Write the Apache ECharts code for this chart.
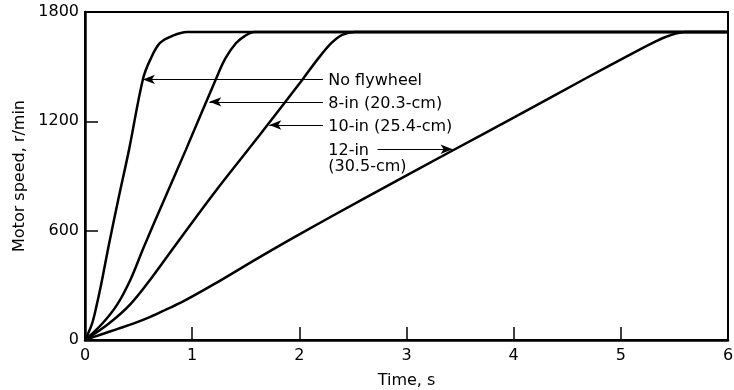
<!DOCTYPE html>
<html>
<head>
<meta charset="utf-8">
<script src="https://cdn.jsdelivr.net/npm/echarts@6/dist/echarts.min.js"></script>
<style>
  html, body { margin: 0; padding: 0; background: #fff; }
  #chart { width: 734px; height: 390px; }
</style>
</head>
<body>
<div id="chart"></div>
<script>
// Motor acceleration curves: [time (s), speed (r/min)]
const noFlywheel = [[0,0],[0.065,89],[0.11,194],[0.16,332],[0.22,515],[0.31,770],[0.41,1042],[0.54,1430],[0.61,1540],[0.70,1630],[0.82,1670],[0.95,1690],[6,1690]];
const flywheel8in = [[0,0],[0.16,89],[0.30,194],[0.425,332],[0.55,512],[0.75,785],[0.94,1042],[1.22,1430],[1.31,1545],[1.41,1630],[1.49,1668],[1.58,1690],[6,1690]];
const flywheel10in = [[0,0],[0.22,89],[0.42,194],[0.61,332],[0.835,513],[1.20,803],[1.63,1125],[2.03,1430],[2.17,1540],[2.30,1630],[2.40,1675],[2.52,1690],[6,1690]];
const flywheel12in = [[0,0],[0.15,30],[0.30,60],[0.45,90],[0.61,127],[0.76,168],[0.92,213],[1.20,305],[1.63,455],[2.0,580],[2.59,772],[3.43,1040],[4.0,1220],[4.67,1435],[5.1,1570],[5.33,1640],[5.45,1670],[5.6,1690],[6,1690]];

// Callouts: [label start time, speed, text]
const labels = [
  [2.27, 1420, 'No flywheel'],
  [2.27, 1297, '8-in (20.3-cm)'],
  [2.27, 1170, '10-in (25.4-cm)'],
  [2.27, 1037, '12-in'],
  [2.27, 948, '(30.5-cm)']
];
// Leader arrows: [from time, to time, speed]
const arrows = [
  [2.22, 0.54, 1430],
  [2.22, 1.16, 1307],
  [2.22, 1.72, 1180],
  [2.73, 3.43, 1047]
];

const xTicks = { min: 0, max: 6, interval: 1 };
const yTicks = { min: 0, max: 1800, interval: 600 };

const FONT = 'DejaVu Sans';
const INK = '#000';

function curve(name, data, arrow) {
  return {
    name: name,
    type: 'line',
    data: data,
    smooth: 0.35,
    symbol: 'none',
    lineStyle: { color: INK, width: 2.5 },
    silent: true,
    markLine: {
      silent: true,
      symbol: ['none', 'arrow'],
      symbolSize: [7, 12],
      lineStyle: { color: INK, width: 1, type: 'solid' },
      label: { show: false },
      emphasis: { disabled: true },
      data: [[{ coord: [arrow[0], arrow[2]] }, { coord: [arrow[1], arrow[2]] }]]
    }
  };
}

const chart = echarts.init(document.getElementById('chart'), null, { renderer: 'canvas' });
chart.setOption({
  animation: false,
  backgroundColor: '#fff',
  grid: {
    left: 85, right: 6, top: 12, bottom: 50,
    outerBoundsMode: 'none',
    show: true, borderColor: INK, borderWidth: 2
  },
  xAxis: {
    type: 'value', min: xTicks.min, max: xTicks.max, interval: xTicks.interval,
    name: 'Time, s', nameLocation: 'middle', nameGap: 33,
    nameTextStyle: { color: INK, fontSize: 16, fontFamily: FONT },
    axisLine: { show: true, lineStyle: { color: INK, width: 2.5 } },
    axisTick: { show: true, inside: true, length: 13, lineStyle: { color: INK, width: 1.5 } },
    axisLabel: { color: INK, fontSize: 16, fontFamily: FONT, margin: 8 },
    splitLine: { show: false }
  },
  yAxis: {
    type: 'value', min: yTicks.min, max: yTicks.max, interval: yTicks.interval,
    name: 'Motor speed, r/min', nameLocation: 'middle', nameGap: 56,
    nameTextStyle: { color: INK, fontSize: 16, fontFamily: FONT },
    axisLine: { show: true, lineStyle: { color: INK, width: 2.5 } },
    axisTick: { show: true, inside: true, length: 13, lineStyle: { color: INK, width: 1.5 } },
    axisLabel: { color: INK, fontSize: 16, fontFamily: FONT, margin: 6, formatter: v => String(v) },
    splitLine: { show: false }
  },
  series: [
    curve('No flywheel', noFlywheel, arrows[0]),
    curve('8-in', flywheel8in, arrows[1]),
    curve('10-in', flywheel10in, arrows[2]),
    curve('12-in', flywheel12in, arrows[3]),
    {
      name: 'callouts',
      type: 'scatter',
      data: labels,
      encode: { x: 0, y: 1 },
      symbol: 'circle',
      symbolSize: 0,
      silent: true,
      itemStyle: { color: INK },
      label: {
        show: true, position: 'right', distance: 0,
        formatter: p => p.value[2],
        color: INK, opacity: 1, textBorderWidth: 0,
        fontSize: 16, fontFamily: FONT
      }
    }
  ]
});
</script>
</body>
</html>
